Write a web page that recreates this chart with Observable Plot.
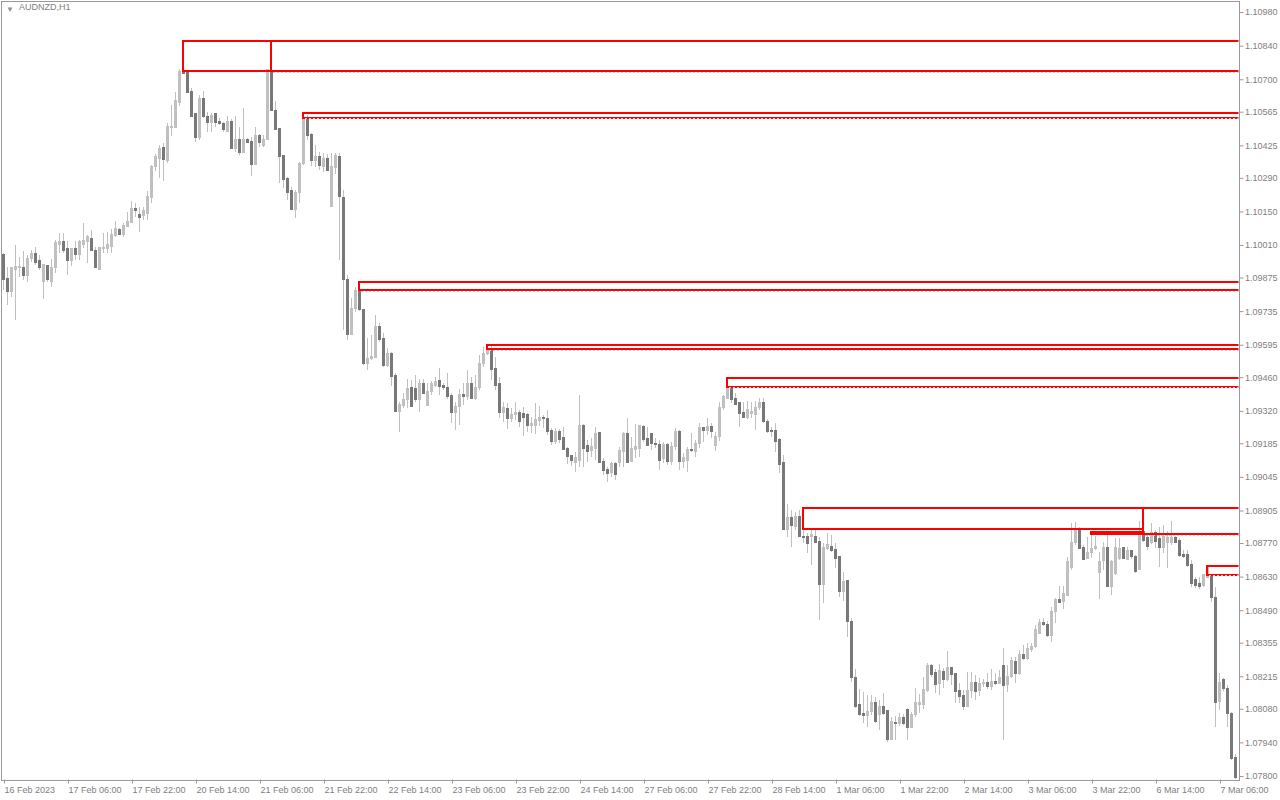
<!DOCTYPE html>
<html><head><meta charset="utf-8">
<script src="https://cdn.jsdelivr.net/npm/d3@7"></script>
<script src="https://cdn.jsdelivr.net/npm/@observablehq/plot@0.6"></script>
<style>html,body{margin:0;padding:0;background:#fff;} #chart{width:1280px;height:800px;}</style>
</head><body><div id="chart"></div>
<script>
const symbol = "AUDNZD,H1";

const open = [
1.09969,1.09869,1.09815,1.09910,1.09915,1.09915,1.09885,1.09952,1.09973,1.09944,
1.09860,1.09923,1.09860,1.09915,1.10014,1.10023,1.09994,1.09944,1.09994,1.09969,
1.10014,1.10023,1.10039,1.09989,1.09910,1.09994,1.09994,1.10006,1.10048,1.10073,
1.10052,1.10089,1.10102,1.10164,1.10139,1.10135,1.10143,1.10206,1.10335,1.10372,
1.10414,1.10364,1.10501,1.10501,1.10605,1.10734,1.10730,1.10651,1.10556,1.10456,
1.10618,1.10547,1.10522,1.10556,1.10526,1.10514,1.10481,1.10526,1.10410,1.10451,
1.10397,1.10451,1.10439,1.10347,1.10468,1.10426,1.10451,1.10734,1.10568,1.10497,
1.10381,1.10289,1.10235,1.10160,1.10227,1.10351,1.10539,1.10472,1.10360,1.10377,
1.10335,1.10372,1.10172,1.10331,1.10377,1.10210,1.09865,1.09636,1.09748,1.09819,
1.09740,1.09515,1.09536,1.09544,1.09673,1.09619,1.09507,1.09557,1.09465,1.09319,
1.09344,1.09369,1.09419,1.09415,1.09369,1.09432,1.09344,1.09402,1.09427,1.09448,
1.09427,1.09419,1.09382,1.09311,1.09336,1.09386,1.09378,1.09432,1.09373,1.09419,
1.09515,1.09557,1.09577,1.09498,1.09432,1.09311,1.09328,1.09290,1.09303,1.09315,
1.09307,1.09303,1.09261,1.09261,1.09278,1.09294,1.09290,1.09240,1.09194,1.09232,
1.09207,1.09165,1.09132,1.09107,1.09115,1.09257,1.09174,1.09153,1.09165,1.09228,
1.09111,1.09074,1.09065,1.09099,1.09107,1.09149,1.09224,1.09111,1.09161,1.09165,
1.09253,1.09203,1.09224,1.09186,1.09178,1.09120,1.09178,1.09111,1.09170,1.09236,
1.09111,1.09115,1.09157,1.09149,1.09182,1.09249,1.09240,1.09253,1.09174,1.09215,
1.09332,1.09373,1.09419,1.09373,1.09353,1.09311,1.09294,1.09307,1.09303,1.09332,
1.09353,1.09274,1.09240,1.09240,1.09199,1.09103,1.08824,1.08878,1.08837,1.08882,
1.08799,1.08795,1.08799,1.08799,1.08778,1.08599,1.08749,1.08757,1.08741,1.08712,
1.08570,1.08612,1.08445,1.08208,1.08096,1.08062,1.08050,1.08067,1.08104,1.08058,
1.08091,1.08071,1.07950,1.08021,1.08017,1.08042,1.08075,1.08004,1.08054,1.08096,
1.08096,1.08158,1.08258,1.08229,1.08183,1.08233,1.08200,1.08250,1.08225,1.08154,
1.08137,1.08091,1.08154,1.08191,1.08154,1.08183,1.08191,1.08171,1.08195,1.08187,
1.08262,1.08179,1.08216,1.08275,1.08225,1.08304,1.08291,1.08325,1.08337,1.08395,
1.08441,1.08429,1.08383,1.08483,1.08533,1.08528,1.08553,1.08666,1.08770,1.08828,
1.08753,1.08707,1.08732,1.08745,1.08649,1.08695,1.08753,1.08587,1.08641,1.08707,
1.08753,1.08703,1.08737,1.08712,1.08658,1.08816,1.08791,1.08774,1.08812,1.08787,
1.08753,1.08770,1.08770,1.08791,1.08782,1.08720,1.08720,1.08682,1.08620,1.08603,
1.08595,1.08628,1.08637,1.08541,1.08112,1.08200,1.08166,1.08062,1.07875];

const high = [
1.09977,1.09919,1.09919,1.10010,1.09960,1.09985,1.09969,1.09989,1.10002,1.09969,
1.09927,1.09927,1.09952,1.10031,1.10060,1.10060,1.10027,1.09998,1.10027,1.10031,
1.10102,1.10052,1.10073,1.10002,1.10002,1.10060,1.10064,1.10077,1.10110,1.10081,
1.10102,1.10148,1.10193,1.10185,1.10168,1.10168,1.10235,1.10343,1.10389,1.10426,
1.10435,1.10518,1.10593,1.10647,1.10743,1.10743,1.10734,1.10664,1.10556,1.10635,
1.10651,1.10564,1.10560,1.10560,1.10539,1.10522,1.10547,1.10535,1.10547,1.10501,
1.10581,1.10456,1.10460,1.10501,1.10472,1.10468,1.10743,1.10739,1.10610,1.10497,
1.10381,1.10293,1.10252,1.10239,1.10356,1.10556,1.10551,1.10476,1.10426,1.10397,
1.10393,1.10389,1.10393,1.10393,1.10393,1.10239,1.09885,1.09790,1.09835,1.09835,
1.09740,1.09623,1.09636,1.09719,1.09686,1.09644,1.09581,1.09565,1.09477,1.09357,
1.09394,1.09453,1.09448,1.09469,1.09453,1.09453,1.09436,1.09444,1.09461,1.09498,
1.09436,1.09477,1.09394,1.09357,1.09411,1.09436,1.09490,1.09461,1.09469,1.09552,
1.09586,1.09594,1.09594,1.09544,1.09461,1.09357,1.09353,1.09332,1.09357,1.09324,
1.09336,1.09311,1.09294,1.09353,1.09340,1.09303,1.09324,1.09249,1.09249,1.09244,
1.09253,1.09170,1.09136,1.09149,1.09386,1.09265,1.09199,1.09207,1.09253,1.09228,
1.09124,1.09086,1.09107,1.09107,1.09170,1.09232,1.09290,1.09211,1.09265,1.09261,
1.09261,1.09253,1.09228,1.09207,1.09199,1.09190,1.09186,1.09190,1.09249,1.09240,
1.09145,1.09170,1.09228,1.09199,1.09269,1.09253,1.09290,1.09269,1.09232,1.09357,
1.09386,1.09461,1.09423,1.09394,1.09357,1.09357,1.09361,1.09357,1.09361,1.09373,
1.09373,1.09286,1.09253,1.09269,1.09207,1.09136,1.08932,1.08907,1.08899,1.08907,
1.08828,1.08812,1.08832,1.08824,1.08795,1.08770,1.08812,1.08803,1.08770,1.08712,
1.08649,1.08616,1.08458,1.08245,1.08162,1.08150,1.08137,1.08137,1.08129,1.08116,
1.08146,1.08071,1.08046,1.08050,1.08062,1.08058,1.08083,1.08067,1.08166,1.08141,
1.08212,1.08270,1.08266,1.08245,1.08266,1.08250,1.08320,1.08254,1.08229,1.08187,
1.08158,1.08233,1.08233,1.08221,1.08208,1.08204,1.08229,1.08245,1.08229,1.08241,
1.08333,1.08262,1.08295,1.08295,1.08325,1.08345,1.08354,1.08354,1.08429,1.08454,
1.08458,1.08445,1.08504,1.08541,1.08591,1.08591,1.08712,1.08853,1.08857,1.08837,
1.08762,1.08795,1.08812,1.08799,1.08732,1.08774,1.08803,1.08699,1.08791,1.08791,
1.08753,1.08753,1.08741,1.08720,1.08861,1.08816,1.08803,1.08853,1.08824,1.08837,
1.08845,1.08820,1.08861,1.08799,1.08791,1.08741,1.08741,1.08699,1.08628,1.08628,
1.08641,1.08674,1.08637,1.08587,1.08229,1.08208,1.08179,1.08067,1.07892];

const low = [
1.09823,1.09760,1.09794,1.09698,1.09877,1.09865,1.09856,1.09939,1.09927,1.09906,
1.09785,1.09856,1.09835,1.09894,1.09977,1.09977,1.09885,1.09923,1.09948,1.09948,
1.09998,1.09935,1.09989,1.09915,1.09910,1.09977,1.09977,1.09977,1.10044,1.10052,
1.10044,1.10089,1.10102,1.10127,1.10064,1.10114,1.10114,1.10185,1.10318,1.10289,
1.10277,1.10351,1.10464,1.10501,1.10589,1.10726,1.10643,1.10543,1.10439,1.10447,
1.10539,1.10481,1.10481,1.10501,1.10510,1.10481,1.10481,1.10410,1.10397,1.10385,
1.10397,1.10435,1.10297,1.10347,1.10418,1.10418,1.10447,1.10568,1.10493,1.10268,
1.10247,1.10198,1.10156,1.10123,1.10185,1.10343,1.10447,1.10339,1.10335,1.10322,
1.10314,1.10318,1.10168,1.10306,1.09948,1.09656,1.09615,1.09636,1.09731,1.09736,
1.09511,1.09490,1.09532,1.09540,1.09606,1.09502,1.09502,1.09423,1.09315,1.09232,
1.09332,1.09332,1.09336,1.09357,1.09315,1.09394,1.09340,1.09386,1.09419,1.09386,
1.09407,1.09369,1.09269,1.09240,1.09261,1.09344,1.09365,1.09373,1.09365,1.09407,
1.09502,1.09552,1.09448,1.09407,1.09290,1.09274,1.09244,1.09274,1.09282,1.09253,
1.09215,1.09232,1.09228,1.09224,1.09257,1.09249,1.09219,1.09178,1.09182,1.09186,
1.09157,1.09099,1.09090,1.09065,1.09086,1.09086,1.09107,1.09128,1.09115,1.09103,
1.09053,1.09024,1.09045,1.09032,1.09086,1.09086,1.09103,1.09107,1.09124,1.09128,
1.09190,1.09174,1.09157,1.09165,1.09074,1.09103,1.09095,1.09095,1.09157,1.09074,
1.09082,1.09065,1.09149,1.09128,1.09165,1.09190,1.09219,1.09207,1.09153,1.09194,
1.09324,1.09369,1.09353,1.09344,1.09253,1.09290,1.09286,1.09290,1.09240,1.09324,
1.09269,1.09228,1.09211,1.09149,1.09061,1.08824,1.08795,1.08753,1.08824,1.08795,
1.08770,1.08728,1.08678,1.08770,1.08449,1.08520,1.08741,1.08732,1.08666,1.08545,
1.08528,1.08379,1.08191,1.08083,1.08050,1.08021,1.08004,1.08054,1.08021,1.07992,
1.08054,1.07942,1.07950,1.07950,1.08008,1.08012,1.07950,1.08004,1.08046,1.08062,
1.08079,1.08150,1.08212,1.08146,1.08137,1.08166,1.08195,1.08179,1.08104,1.08104,
1.08075,1.08087,1.08125,1.08116,1.08133,1.08171,1.08162,1.08158,1.08179,1.08187,
1.07950,1.08150,1.08208,1.08187,1.08221,1.08283,1.08283,1.08316,1.08333,1.08391,
1.08424,1.08379,1.08358,1.08437,1.08520,1.08495,1.08549,1.08658,1.08762,1.08745,
1.08699,1.08703,1.08707,1.08741,1.08537,1.08658,1.08587,1.08553,1.08637,1.08699,
1.08703,1.08699,1.08703,1.08645,1.08658,1.08774,1.08741,1.08766,1.08749,1.08670,
1.08728,1.08666,1.08762,1.08770,1.08712,1.08707,1.08670,1.08587,1.08583,1.08578,
1.08587,1.08624,1.08524,1.08004,1.08075,1.08154,1.08004,1.07867,1.07788];

const close = [
1.09865,1.09815,1.09915,1.09919,1.09919,1.09885,1.09956,1.09973,1.09939,1.09915,
1.09927,1.09865,1.09915,1.10019,1.10023,1.09989,1.09944,1.09994,1.09969,1.10023,
1.10031,1.10044,1.09989,1.09915,1.09998,1.09998,1.10014,1.10052,1.10077,1.10056,
1.10093,1.10106,1.10164,1.10152,1.10123,1.10152,1.10214,1.10335,1.10377,1.10410,
1.10368,1.10505,1.10505,1.10610,1.10734,1.10726,1.10647,1.10547,1.10456,1.10618,
1.10543,1.10522,1.10551,1.10522,1.10514,1.10489,1.10526,1.10410,1.10451,1.10397,
1.10451,1.10435,1.10347,1.10468,1.10435,1.10451,1.10739,1.10568,1.10493,1.10377,
1.10281,1.10227,1.10160,1.10227,1.10351,1.10539,1.10468,1.10360,1.10377,1.10343,
1.10372,1.10322,1.10339,1.10381,1.10214,1.09865,1.09636,1.09748,1.09819,1.09740,
1.09515,1.09536,1.09548,1.09673,1.09615,1.09507,1.09557,1.09461,1.09319,1.09348,
1.09369,1.09415,1.09340,1.09369,1.09432,1.09394,1.09402,1.09432,1.09444,1.09423,
1.09419,1.09378,1.09311,1.09336,1.09390,1.09378,1.09432,1.09373,1.09419,1.09515,
1.09557,1.09577,1.09494,1.09427,1.09311,1.09332,1.09290,1.09303,1.09311,1.09274,
1.09294,1.09261,1.09269,1.09282,1.09294,1.09286,1.09236,1.09194,1.09232,1.09199,
1.09161,1.09128,1.09115,1.09124,1.09257,1.09165,1.09149,1.09170,1.09224,1.09103,
1.09070,1.09061,1.09099,1.09053,1.09153,1.09224,1.09107,1.09165,1.09170,1.09257,
1.09199,1.09174,1.09182,1.09178,1.09115,1.09178,1.09111,1.09170,1.09236,1.09111,
1.09124,1.09157,1.09153,1.09182,1.09249,1.09240,1.09253,1.09236,1.09215,1.09332,
1.09378,1.09419,1.09369,1.09348,1.09307,1.09294,1.09324,1.09319,1.09332,1.09353,
1.09274,1.09236,1.09232,1.09194,1.09095,1.08824,1.08878,1.08841,1.08882,1.08795,
1.08791,1.08766,1.08807,1.08770,1.08599,1.08753,1.08762,1.08737,1.08707,1.08570,
1.08608,1.08445,1.08208,1.08091,1.08058,1.08050,1.08067,1.08104,1.08025,1.08091,
1.08062,1.07950,1.08025,1.08017,1.08042,1.08017,1.08000,1.08058,1.08104,1.08104,
1.08162,1.08258,1.08221,1.08179,1.08241,1.08200,1.08250,1.08221,1.08150,1.08133,
1.08091,1.08158,1.08191,1.08150,1.08187,1.08191,1.08171,1.08195,1.08187,1.08208,
1.08175,1.08216,1.08279,1.08225,1.08304,1.08291,1.08329,1.08341,1.08408,1.08441,
1.08429,1.08383,1.08483,1.08533,1.08524,1.08558,1.08691,1.08774,1.08824,1.08749,
1.08703,1.08732,1.08749,1.08757,1.08691,1.08753,1.08587,1.08691,1.08753,1.08749,
1.08707,1.08737,1.08712,1.08653,1.08816,1.08782,1.08757,1.08812,1.08778,1.08753,
1.08795,1.08791,1.08791,1.08774,1.08716,1.08712,1.08678,1.08603,1.08595,1.08587,
1.08637,1.08666,1.08541,1.08108,1.08191,1.08166,1.08062,1.07871,1.07792];

// time axis: bar index of each labelled hour, and its label
const xTickBars = [0,16,32,48,64,80,96,112,128,144,160,176,192,208,224,240,256,272,288,304];
const xTickLabels = ["16 Feb 2023","17 Feb 06:00","17 Feb 22:00","20 Feb 14:00","21 Feb 06:00",
  "21 Feb 22:00","22 Feb 14:00","23 Feb 06:00","23 Feb 22:00","24 Feb 14:00","27 Feb 06:00",
  "27 Feb 22:00","28 Feb 14:00","1 Mar 06:00","1 Mar 22:00","2 Mar 14:00","3 Mar 06:00",
  "3 Mar 22:00","6 Mar 14:00","7 Mar 06:00"];
const yTicks = [1.10980,1.10840,1.10700,1.10565,1.10425,1.10290,1.10150,1.10010,1.09875,1.09735,
  1.09595,1.09460,1.09320,1.09185,1.09045,1.08905,1.08770,1.08630,1.08490,1.08355,1.08215,
  1.08080,1.07940,1.07800];

// closed zones (start bar -> end bar)
const boxStart = [45, 200, 272];
const boxEnd = [67, 285, 285];
const boxTop = [1.10859, 1.08916, 1.08816];
const boxBottom = [1.10734, 1.08830, 1.08806];
// open zones extended to the right edge
const zoneStart = [67, 75, 89, 121, 181, 285, 301];
const zoneTop = [1.10859, 1.10560, 1.09856, 1.09594, 1.09457, 1.08916, 1.08674];
const zoneBottom = [1.10734, 1.10539, 1.09821, 1.09577, 1.09421, 1.08807, 1.08637];

const bars = open.map((o, i) => ({i, o, h: high[i], l: low[i], c: close[i]}));
const upBars = bars.filter(d => d.c >= d.o);
const downBars = bars.filter(d => d.c < d.o);
const boxes = boxStart.map((s, k) => ({s, e: boxEnd[k], t: boxTop[k], b: boxBottom[k]}));
const zones = zoneStart.map((s, k) => ({s, t: zoneTop[k], b: zoneBottom[k]}));

const xDomain = [-0.625, open.length - 1 + 0.875];
const yDomain = [1.077855, 1.110279];
const beyond = xDomain[1] + 5;
const half = 0.375;

const chart = Plot.plot({
  width: 1280, height: 800,
  marginLeft: 0.5, marginTop: 0.5, marginRight: 41.5, marginBottom: 20.5,
  style: {fontFamily: "'Liberation Sans', Arial, sans-serif", fontSize: "9px", background: "#fff", color: "#808080"},
  x: {domain: xDomain, axis: null},
  y: {domain: yDomain, axis: null},
  marks: [
    Plot.ruleX(bars, {x: "i", y1: "l", y2: "h", stroke: "#c0c0c0", shapeRendering: "crispEdges"}),
    Plot.rect(upBars, {x1: d => d.i - half, x2: d => d.i + half, y1: "o", y2: "c", fill: "#c0c0c0", insetTop: -0.5, insetBottom: -0.5, shapeRendering: "crispEdges"}),
    Plot.rect(downBars, {x1: d => d.i - half, x2: d => d.i + half, y1: "o", y2: "c", fill: "#787878", insetTop: -0.5, insetBottom: -0.5, shapeRendering: "crispEdges"}),
    Plot.rect(zones, {x1: "s", x2: beyond, y1: "b", y2: "t", fill: "none", stroke: "#ff0000", strokeWidth: 2, clip: true, shapeRendering: "crispEdges"}),
    Plot.ruleY(zones, {y: "b", x1: d => d.s + 0.4, x2: beyond, stroke: "#cfcfcf", strokeDasharray: "2,2", dy: 0.5, clip: true, shapeRendering: "crispEdges"}),
    Plot.rect(boxes, {x1: "s", x2: "e", y1: "b", y2: "t", fill: "none", stroke: "#ff0000", strokeWidth: 2, clip: true, shapeRendering: "crispEdges"}),
    Plot.axisY(yTicks, {anchor: "right", tickSize: 4, tickPadding: 2, tickFormat: d3.format(".5f"), stroke: "#999", fill: "#808080", fontSize: 9}),
    Plot.axisX(xTickBars, {anchor: "bottom", tickSize: 4, tickPadding: 3, tickFormat: d => xTickLabels[xTickBars.indexOf(d)], textAnchor: "start", dx: 1, stroke: "#999", fill: "#808080", fontSize: 9}),
    Plot.text(["▼"], {frameAnchor: "top-left", dx: 5, dy: 5, fontSize: 8, fill: "#909090", textAnchor: "start", lineAnchor: "top"}),
    Plot.text([symbol], {frameAnchor: "top-left", dx: 18, dy: 3, fontSize: 9, fill: "#808080", textAnchor: "start", lineAnchor: "top"}),
    Plot.frame({stroke: "#999", shapeRendering: "crispEdges"})
  ]
});
document.getElementById("chart").appendChild(chart);
</script>
</body></html>
